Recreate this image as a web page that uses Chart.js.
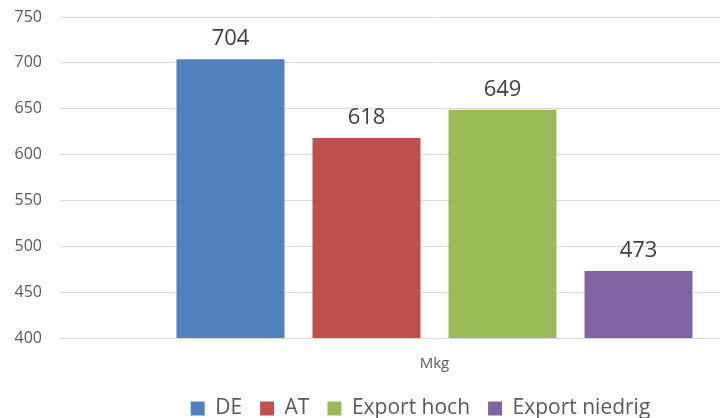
<!DOCTYPE html>
<html>
<head>
<meta charset="utf-8">
<script src="https://cdn.jsdelivr.net/npm/chart.js@4.4.1/dist/chart.umd.min.js"></script>
<style>
    html, body { margin: 0; padding: 0; background: #fff; overflow: hidden; }
    #wrap { width: 841px; height: 418px; position: relative; }
</style>
</head>
<body>
<div id="wrap"><canvas id="chart"></canvas></div>
<script>
const CATEGORIES = ['Mkg'];
const SERIES = ['DE', 'AT', 'Export hoch', 'Export niedrig'];
const VALUES = [704, 618, 649, 473];
const COLORS = ['#4f81bd', '#c0504d', '#9bbb59', '#8064a2'];
const Y_MIN = 400, Y_MAX = 750, Y_STEP = 50;

const FONT = '"Open Sans", "DejaVu Sans", sans-serif';

// value labels above each bar
const barLabels = {
    id: 'barLabels',
    afterDatasetsDraw(chart) {
        const ctx = chart.ctx;
        ctx.save();
        ctx.font = '22px ' + FONT;
        ctx.fillStyle = '#404040';
        ctx.textAlign = 'center';
        ctx.textBaseline = 'alphabetic';
        chart.data.datasets.forEach((ds, i) => {
            chart.getDatasetMeta(i).data.forEach((bar, j) => {
                ctx.fillText(String(ds.data[j]), bar.x, bar.y - 14);
            });
        });
        ctx.restore();
    }
};

new Chart(document.getElementById('chart'), {
    type: 'bar',
    data: {
        labels: CATEGORIES,
        datasets: SERIES.map((name, i) => ({
            label: name,
            data: [VALUES[i]],
            backgroundColor: COLORS[i],
            borderWidth: 0,
            categoryPercentage: 0.7263,
            barPercentage: 0.794,
        }))
    },
    options: {
        responsive: true,
        maintainAspectRatio: false,
        animation: false,
        layout: { padding: { top: 17, right: 0, left: 0, bottom: 0 } },
        plugins: {
            tooltip: { enabled: false },
            legend: {
                position: 'bottom',
                maxHeight: 38,
                labels: {
                    color: '#595959',
                    font: { family: FONT, size: 21 },
                    boxWidth: 14,
                    boxHeight: 14,
                    padding: 18,
                }
            }
        },
        scales: {
            x: {
                grid: { display: false },
                border: { display: false },
                ticks: { color: '#595959', font: { family: FONT, size: 15 }, padding: 9 },
                afterFit: s => { s.height = 42; }
            },
            y: {
                min: Y_MIN,
                max: Y_MAX,
                grid: { color: '#d9d9d9', drawTicks: true, tickLength: 18, tickColor: 'rgba(0,0,0,0)' },
                border: { display: false },
                ticks: {
                    stepSize: Y_STEP,
                    color: '#595959',
                    font: { family: FONT, size: 16 },
                    padding: 0,
                },
                afterFit: s => { s.width = 60; }
            },
            // empty spacer on the right, keeps the plot where the original sits
            yRight: {
                position: 'right',
                display: true,
                grid: { display: false },
                border: { display: false },
                ticks: { display: false },
                afterFit: s => { s.width = 32; }
            }
        }
    },
    plugins: [barLabels]
});
</script>
</body>
</html>
